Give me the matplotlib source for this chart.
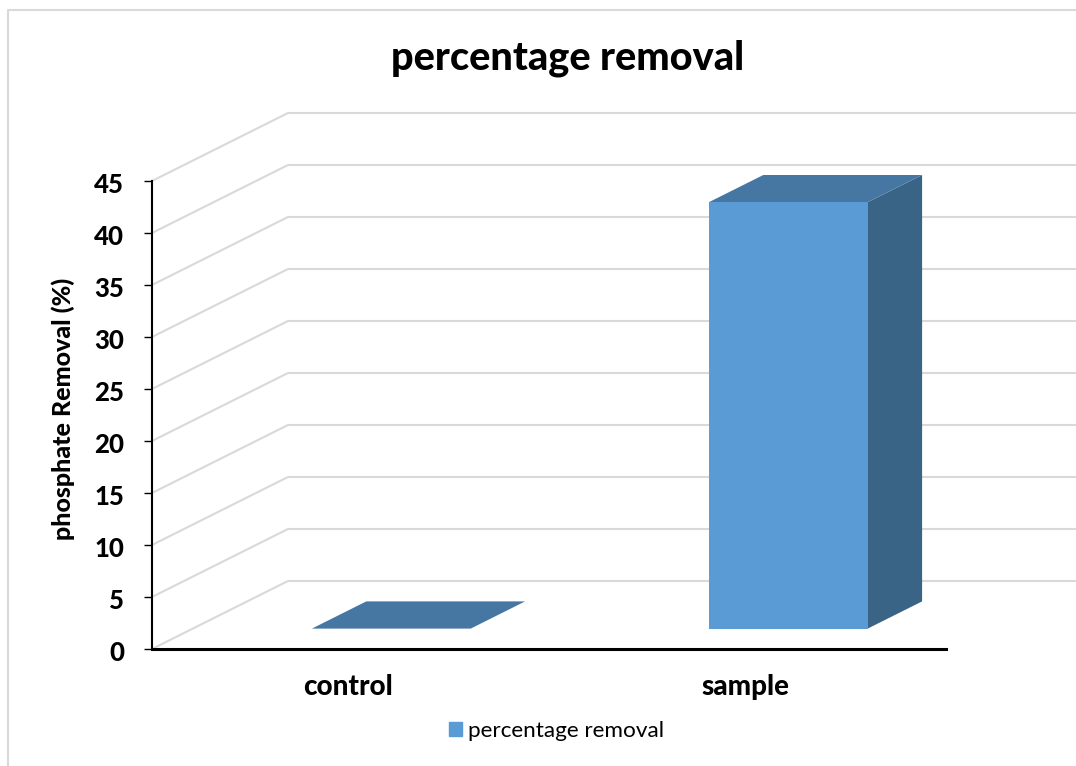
#!/usr/bin/env python3
import matplotlib
matplotlib.use("Agg")
import matplotlib.pyplot as plt
from matplotlib.lines import Line2D
from matplotlib.transforms import Affine2D, ScaledTranslation

plt.rcParams['font.family'] = ['Lato', 'DejaVu Sans']

# Data
categories = ["control", "sample"]
removal = [0, 41]
y_ticks = [0, 5, 10, 15, 20, 25, 30, 35, 40, 45]
series_name = "percentage removal"

# Colours
front_col = "#5B9BD5"
top_col = "#4676A2"
side_col = "#3A6486"
grid_col = "#D9D9D9"

W, H = 1076, 766
fig = plt.figure(figsize=(W / 100, H / 100), dpi=100)

# Front plane of the 3D box, in pixels of the image
left, right, bottom, top = 152, 946, 649, 181
ax = fig.add_axes([left / W, 1 - bottom / H, (right - left) / W, (bottom - top) / H])
ax.set_xlim(0, 2)
ax.set_ylim(0, 45)
ax.patch.set_alpha(0)

# One unit of depth in data units (136 px right, 68 px up)
depth_x = 136 / ((right - left) / 2)
depth_y = 68 / ((bottom - top) / 45)
bar_width = 0.4
depth_front = 0.30
depth_back = 0.70


def at_depth(d):
    return Affine2D().translate(d * depth_x, d * depth_y) + ax.transData


# Walls: floor diagonal and back line for each gridline
x_edge = (W - left) / ((right - left) / 2)
for v in y_ticks:
    ax.plot([0, depth_x, x_edge], [v, v + depth_y, v + depth_y], color=grid_col,
            lw=1.5, clip_on=False, zorder=1, solid_joinstyle="miter")

# Bars
centers = [i + 0.5 for i in range(len(categories))]
shift_x = (depth_back - depth_front) * depth_x
shift_y = (depth_back - depth_front) * depth_y
for c, v in zip(centers, removal):
    x0 = c - bar_width / 2
    x1 = c + bar_width / 2
    ft = at_depth(depth_front)
    # side
    ax.fill([x1, x1 + shift_x, x1 + shift_x, x1], [0, shift_y, v + shift_y, v],
            color=side_col, lw=0, transform=ft, clip_on=False, zorder=2)
    # top
    ax.fill([x0, x1, x1 + shift_x, x0 + shift_x], [v, v, v + shift_y, v + shift_y],
            color=top_col, lw=0, transform=ft, clip_on=False, zorder=3)
    # front
    ax.bar(c, v, bar_width, color=front_col, transform=ft, clip_on=False, zorder=3)

# Axes
for s in ["top", "right"]:
    ax.spines[s].set_visible(False)
ax.spines["left"].set_linewidth(1.5)
ax.spines["bottom"].set_linewidth(2.2)
ax.set_xticks(centers)
ax.set_xticklabels(categories, fontsize=20, fontweight="black")
ax.tick_params(axis="x", length=0, pad=18)
ax.set_yticks(y_ticks)
ax.set_yticklabels([str(v) for v in y_ticks], fontsize=18.5, fontweight="black")
ax.tick_params(axis="y", length=6, width=1, pad=14)

# Nudge the labels to where they sit in the reference
nudge_y = ScaledTranslation(0, -2 / 100, fig.dpi_scale_trans)
for lab in ax.get_yticklabels():
    lab.set_transform(lab.get_transform() + nudge_y)
nudge_x = ScaledTranslation(-2 / 100, 0, fig.dpi_scale_trans)
for lab in ax.get_xticklabels():
    lab.set_transform(lab.get_transform() + nudge_x)

fig.text(63 / W, 1 - 409 / H, "phosphate Removal (%)", fontsize=18, fontweight="black",
         rotation=90, ha="center", va="center")

fig.text(568 / W, 1 - 58 / H, "percentage removal", fontsize=28.5, fontweight="black",
         ha="center", va="center")

# Legend
handle = plt.Rectangle((0, 0), 1, 1, color=front_col)
fig.legend([handle], [series_name], loc="center", bbox_to_anchor=(557 / W, 1 - 731 / H),
           frameon=False, fontsize=16.2, handlelength=0.55, handleheight=0.62, handletextpad=0.3)

# Chart frame, cut by the image edge
fig.add_artist(Line2D([8 / W, 8 / W, 1], [0, 1 - 10 / H, 1 - 10 / H], color=grid_col, lw=1.5))

fig.savefig("out.png", dpi=100)
